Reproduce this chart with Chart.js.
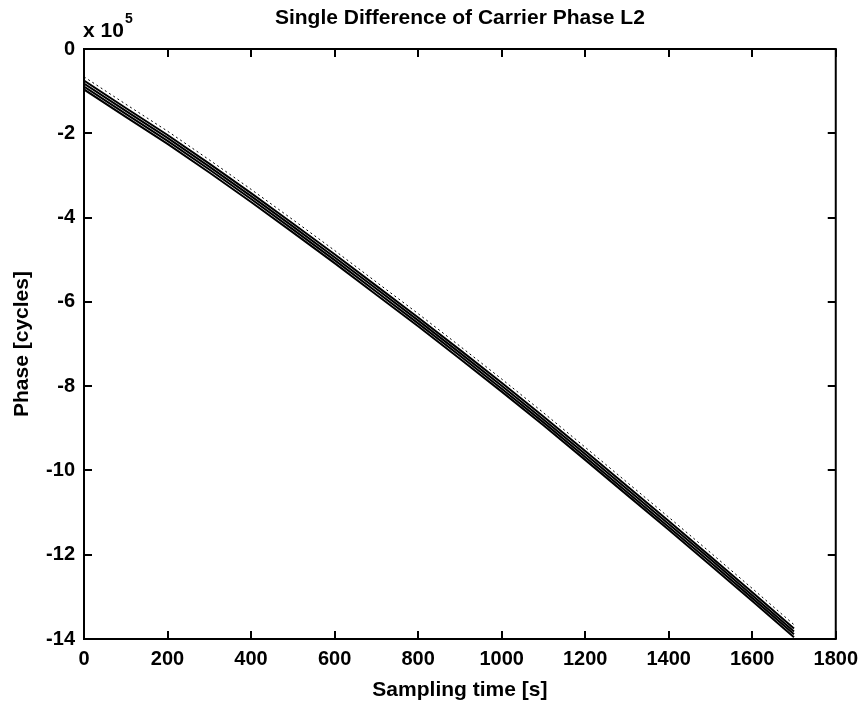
<!DOCTYPE html>
<html>
<head>
<meta charset="utf-8">
<script src="https://cdn.jsdelivr.net/npm/chart.js@4/dist/chart.umd.min.js"></script>
<style>
  html, body { margin: 0; padding: 0; background: #fff; }
  #c { display: block; }
</style>
</head>
<body>
<canvas id="c" width="866" height="706"></canvas>
<script>
// sampling times [s]
const times = [0, 100, 200, 300, 400, 500, 600, 700, 800, 900, 1000, 1100, 1200, 1300, 1400, 1500, 1600, 1700];

// single-difference phase, units of 1e5 cycles
const sd1 = [-0.66, -1.31, -1.95, -2.63, -3.33, -4.05, -4.78, -5.53, -6.28, -7.05, -7.83, -8.63, -9.45, -10.28, -11.11, -11.95, -12.80, -13.66];
const sd2 = [-0.75, -1.40, -2.04, -2.72, -3.42, -4.14, -4.87, -5.62, -6.37, -7.14, -7.92, -8.72, -9.54, -10.37, -11.20, -12.04, -12.89, -13.75];
const sd3 = [-0.82, -1.47, -2.11, -2.79, -3.49, -4.21, -4.94, -5.69, -6.44, -7.21, -7.99, -8.79, -9.61, -10.44, -11.27, -12.11, -12.96, -13.82];
const sd4 = [-0.89, -1.54, -2.18, -2.86, -3.56, -4.28, -5.01, -5.76, -6.51, -7.28, -8.06, -8.86, -9.68, -10.51, -11.34, -12.18, -13.03, -13.89];
const sd5 = [-0.96, -1.61, -2.25, -2.93, -3.63, -4.35, -5.08, -5.83, -6.58, -7.35, -8.13, -8.93, -9.75, -10.58, -11.41, -12.25, -13.10, -13.96];

const xTicks = [0, 200, 400, 600, 800, 1000, 1200, 1400, 1600, 1800];
const yTicks = [0, -2, -4, -6, -8, -10, -12, -14];

const titleText = "Single Difference of Carrier Phase L2";
const xLabel = "Sampling time [s]";
const yLabel = "Phase [cycles]";

const FONT = '"Liberation Sans", Arial, sans-serif';

const pts = (ys) => times.map((t, i) => ({ x: t, y: ys[i] }));
const mk = (ys, dash, w) => ({
  data: pts(ys),
  borderColor: "#000",
  borderWidth: w,
  borderDash: dash,
  pointRadius: 0,
  fill: false,
  tension: 0,
});

// box, inward ticks and the free-standing texts
const frame = {
  id: "frame",
  afterDraw(chart) {
    const { ctx, chartArea: a, scales } = chart;
    const x = scales.x, y = scales.y;
    ctx.save();
    ctx.strokeStyle = "#000";
    ctx.lineWidth = 2;
    ctx.strokeRect(a.left, a.top, a.right - a.left, a.bottom - a.top);
    const tl = 8;
    ctx.beginPath();
    xTicks.forEach((v) => {
      const px = Math.round(x.getPixelForValue(v));
      ctx.moveTo(px, a.bottom); ctx.lineTo(px, a.bottom - tl);
      ctx.moveTo(px, a.top); ctx.lineTo(px, a.top + tl);
    });
    yTicks.forEach((v) => {
      const py = Math.round(y.getPixelForValue(v));
      ctx.moveTo(a.left, py); ctx.lineTo(a.left + tl, py);
      ctx.moveTo(a.right, py); ctx.lineTo(a.right - tl, py);
    });
    ctx.stroke();

    const cx = (a.left + a.right) / 2;
    const cy = (a.top + a.bottom) / 2;
    ctx.fillStyle = "#000";
    ctx.textBaseline = "middle";
    ctx.textAlign = "center";
    ctx.font = "bold 21px " + FONT;
    ctx.fillText(titleText, cx, 18);
    ctx.fillText(xLabel, cx, 690);

    ctx.save();
    ctx.translate(22, cy);
    ctx.rotate(-Math.PI / 2);
    ctx.fillText(yLabel, 0, 0);
    ctx.restore();

    ctx.textAlign = "left";
    ctx.font = "bold 21px " + FONT;
    ctx.fillText("x 10", 83, 31);
    ctx.font = "bold 14px " + FONT;
    ctx.fillText("5", 125, 19);
    ctx.restore();
  },
};

new Chart(document.getElementById("c"), {
  type: "line",
  data: {
    datasets: [
      mk(sd1, [2, 3], 1),
      mk(sd2, [], 2),
      mk(sd3, [], 2),
      mk(sd4, [], 2),
      mk(sd5, [], 2),
    ],
  },
  options: {
    responsive: false,
    animation: false,
    devicePixelRatio: 1,
    layout: { padding: { left: 0, top: 49, right: 29, bottom: 0 } },
    plugins: { legend: { display: false }, tooltip: { enabled: false } },
    scales: {
      x: {
        type: "linear",
        min: 0,
        max: 1800,
        afterFit: (s) => { s.height = 67; },
        afterBuildTicks: (s) => { s.ticks = xTicks.map((v) => ({ value: v })); },
        grid: { display: false, drawTicks: false },
        border: { display: false },
        ticks: {
          color: "#000", padding: 8, maxRotation: 0,
          callback: (v) => String(v),
          font: { family: FONT, size: 20, weight: "bold" },
        },
      },
      y: {
        type: "linear",
        min: -14,
        max: 0,
        afterFit: (s) => { s.width = 84; },
        afterBuildTicks: (s) => { s.ticks = yTicks.map((v) => ({ value: v })); },
        grid: { display: false, drawTicks: false },
        border: { display: false },
        ticks: {
          color: "#000", padding: 9,
          callback: (v) => String(v),
          font: { family: FONT, size: 20, weight: "bold" },
        },
      },
    },
  },
  plugins: [frame],
});
</script>
</body>
</html>
